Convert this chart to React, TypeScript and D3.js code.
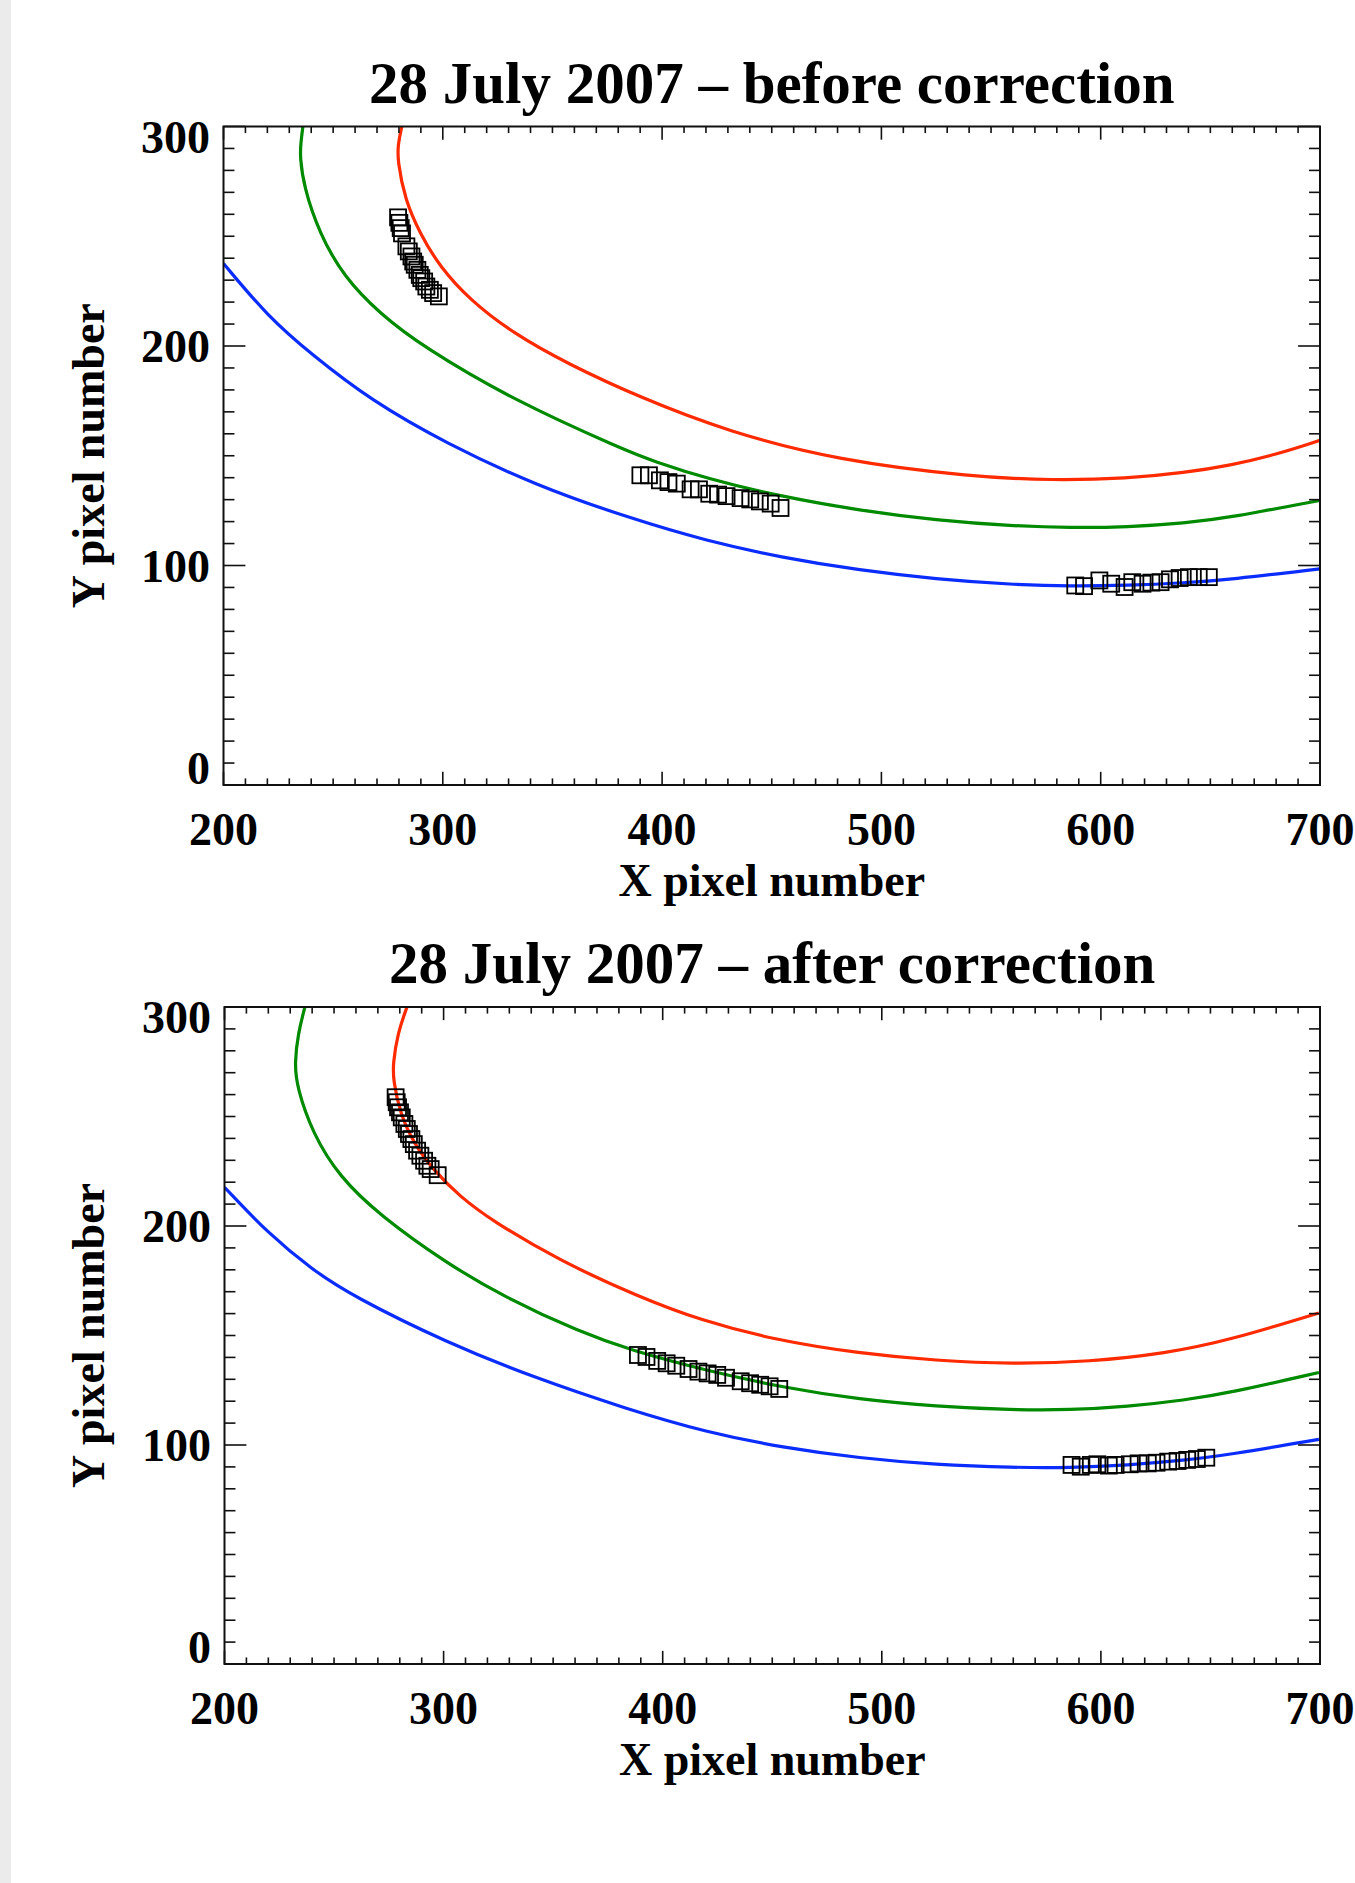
import * as d3 from 'd3';

type Pt = [number, number];

const xTicks = [200, 300, 400, 500, 600, 700];
const yTicks = [0, 100, 200, 300];
const xTitle = 'X pixel number';
const yTitle = 'Y pixel number';
const beforeTitle = '28 July 2007 – before correction';
const afterTitle = '28 July 2007 – after correction';

// fitted curves (x pixel, y pixel)
const beforeRed: Pt[] = [
  [281.3, 300], [279.6, 292], [279.3, 284.7], [282.8, 266.5], [289.6, 251.3], [298.6, 236.1],
  [312.4, 220.9], [332.2, 205.7], [356.7, 192], [390, 176.5], [430, 161], [479.7, 147.9],
  [542.5, 140.3], [577.4, 138.8], [612.3, 139.6], [638.4, 142.3], [659, 145.6], [680, 150.5],
  [700, 157],
];
const beforeGreen: Pt[] = [
  [236.2, 300], [235.2, 292], [234.9, 286.2], [236.6, 272.6], [243.7, 251.3], [254.9, 231.5],
  [271.2, 214.8], [291, 199.6], [332.2, 175.3], [383.1, 152.5], [395.9, 147.6], [420.3, 139.6],
  [455.2, 131.2], [490.1, 125.1], [525, 120.6], [559.9, 118], [586.1, 117.2], [612.3, 117.5],
  [638.4, 119.3], [659, 121.8], [700, 129.7],
];
const beforeBlue: Pt[] = [
  [200, 237.6], [220.3, 213.3], [240.6, 195.8], [267.1, 175.3], [301.7, 155.5], [342.4, 136.5],
  [385.4, 121.5], [420.3, 111.2], [455.2, 103.5], [490.1, 97.8], [525, 93.8], [559.9, 91.3],
  [586.1, 90.5], [612.3, 90.9], [638.4, 92.1], [659, 93.6], [700, 98.5],
];
const beforeMarks: Pt[] = [
  [279.6, 258.6], [280.2, 256.1], [280.8, 253.7], [281.4, 251.3], [283.4, 245.4], [284.5, 243.1],
  [285.7, 240.8], [286.5, 238.5], [287.2, 237.0], [288.4, 234.7], [289.5, 232.4], [290.2, 230.9],
  [291.5, 229.4], [292.5, 227.1], [294.1, 225.6], [295.6, 224.1], [298.2, 222.6],
  [390.1, 141.1], [394.0, 141.1], [399.0, 138.8], [402.9, 138.0], [406.7, 137.3], [413.0, 134.7],
  [416.8, 134.7], [421.5, 132.7], [425.5, 132.3], [429.4, 131.6], [435.8, 130.7], [440.2, 130.1],
  [444.6, 129.2], [449.5, 128.2], [454.0, 126.2],
  [588.4, 90.9], [592.4, 90.6], [599.4, 93.2], [604.8, 91.7], [610.9, 90.2], [614.4, 92.4],
  [619.1, 91.7], [623.1, 92.2], [627.3, 92.4], [631.6, 93.7], [636.0, 94.3], [640.2, 94.7],
  [644.7, 94.7], [649.3, 94.7],
];

const afterRed: Pt[] = [
  [283.3, 300], [279, 288], [276.9, 274], [277.0, 266.7], [280.1, 251.5], [286.2, 238],
  [295.3, 225.6], [307.5, 213.4], [321.7, 202.7], [352.2, 184.5], [388.9, 167.7], [417, 157],
  [451.4, 147.9], [489.9, 141.8], [524.8, 138.5], [559.7, 137.0], [594.7, 138.0], [629.6, 141.8],
  [658.9, 147.9], [699.5, 160.3],
];
const afterGreen: Pt[] = [
  [236.7, 300], [233.6, 288], [232, 274.3], [233, 263.6], [240.2, 242.3], [252.4, 222.5],
  [270.7, 205], [301.3, 183], [327.8, 167.5], [362.4, 151.5], [385.1, 143.4], [420, 134],
  [455, 126.2], [489.9, 120.8], [524.8, 117.6], [559.7, 116], [585.9, 116], [612.1, 117.5],
  [638.3, 120.5], [658.9, 123.8], [699.5, 133.1],
];
const afterBlue: Pt[] = [
  [200, 217.7], [219.8, 196.7], [240.2, 179.9], [258.5, 168], [301.3, 146.8], [342, 130.5],
  [383.5, 116.5], [420, 105.8], [455, 98.8], [489.9, 94], [524.8, 91], [559.7, 89.7],
  [585.9, 89.6], [612.1, 90.8], [638.3, 93.0], [658.9, 95.6], [699.5, 102.6],
];
const afterMarks: Pt[] = [
  [278.1, 258.8], [278.6, 256.5], [279.2, 254.2], [280.1, 251.9], [280.9, 249.6], [282.1, 246.6],
  [283.2, 244.3], [284.2, 242.0], [285.3, 239.7], [286.4, 237.4], [287.9, 234.4], [289.4, 232.1],
  [291.1, 229.8], [292.6, 227.5], [294.1, 226.0], [297.3, 223.2],
  [388.7, 141.1], [392.6, 140.2], [397.5, 138.4], [401.8, 137.3], [406.2, 136.2], [411.8, 134.7],
  [416.3, 133.5], [420.5, 132.7], [424.9, 132.0], [428.9, 130.7], [435.6, 129.1], [439.9, 128.2],
  [444.5, 127.5], [448.8, 126.8], [453.2, 125.6],
  [586.6, 90.9], [590.8, 90.1], [595.4, 90.9], [598.4, 91.2], [603.6, 90.6], [606.7, 90.9],
  [613.2, 91.2], [617.2, 91.6], [621.4, 91.6], [625.4, 91.9], [630.7, 92.4], [635.0, 92.7],
  [639.4, 93.2], [643.8, 93.6], [648.1, 94.2],
];

const FONT = "'Liberation Serif', 'Times New Roman', serif";

type PanelProps = {
  id: string;
  left: number;
  top: number;
  width: number;
  height: number;
  title: string;
  red: Pt[];
  green: Pt[];
  blue: Pt[];
  marks: Pt[];
};

function Panel({ id, left, top, width, height, title, red, green, blue, marks }: PanelProps) {
  const x = d3.scaleLinear().domain([200, 700]).range([left, left + width]);
  const y = d3.scaleLinear().domain([0, 300]).range([top + height, top]);
  // b-spline evens out the small wobble of hand-read points
  const line = d3.line<Pt>()
    .x(d => x(d[0]))
    .y(d => y(d[1]))
    .curve(d3.curveBasis);

  const xMinor = d3.range(200, 701, 10);
  const yMinor = d3.range(0, 301, 10);
  // IDL style: tick length is 2% of the plot size
  const xLen = height * 0.02;
  const yLen = width * 0.02;
  const bottom = top + height;
  const right = left + width;
  const sq = 16;

  const yLabelDy = (v: number) => (v === 300 ? 26 : v === 0 ? -1 : 16);

  return (
    <g>
      <defs>
        <clipPath id={id}>
          <rect x={left} y={top} width={width} height={height} />
        </clipPath>
      </defs>

      <text x={left + width / 2} y={top - 24} textAnchor="middle" fontFamily={FONT}
        fontWeight="bold" fontSize={59} fill="#000">{title}</text>

      <g clipPath={`url(#${id})`} fill="none" strokeWidth={3.2} strokeLinejoin="round">
        <path d={line(red) || ''} stroke="#ff2a00" />
        <path d={line(green) || ''} stroke="#008a00" />
        <path d={line(blue) || ''} stroke="#0a2cff" />
      </g>

      <g fill="none" stroke="#000" strokeWidth={1.8}>
        {marks.map((d, i) => (
          <rect key={i} x={x(d[0]) - sq / 2} y={y(d[1]) - sq / 2} width={sq} height={sq} />
        ))}
      </g>

      <g stroke="#111" strokeWidth={1.6}>
        {xMinor.map(v => {
          const len = v % 100 === 0 ? xLen : xLen / 2;
          return (
            <g key={`x${v}`}>
              <line x1={x(v)} x2={x(v)} y1={bottom} y2={bottom - len} />
              <line x1={x(v)} x2={x(v)} y1={top} y2={top + len} />
            </g>
          );
        })}
        {yMinor.map(v => {
          const len = v % 100 === 0 ? yLen : yLen / 2;
          return (
            <g key={`y${v}`}>
              <line x1={left} x2={left + len} y1={y(v)} y2={y(v)} />
              <line x1={right} x2={right - len} y1={y(v)} y2={y(v)} />
            </g>
          );
        })}
      </g>
      <rect x={left} y={top} width={width} height={height} fill="none" stroke="#111" strokeWidth={2} />

      <g fontFamily={FONT} fontWeight="bold" fontSize={46} fill="#000">
        {xTicks.map(v => (
          <text key={`xl${v}`} x={x(v)} y={bottom + 60} textAnchor="middle">{v}</text>
        ))}
        {yTicks.map(v => (
          <text key={`yl${v}`} x={left - 13.5} y={y(v) + yLabelDy(v)} textAnchor="end">{v}</text>
        ))}
        <text x={left + width / 2} y={bottom + 111} textAnchor="middle">{xTitle}</text>
        <text transform={`translate(104, ${top + height / 2}) rotate(-90)`} textAnchor="middle">{yTitle}</text>
      </g>
    </g>
  );
}

export default function App() {
  return (
    <svg width={1355} height={1883} style={{ position: 'absolute', left: 0, top: 0, background: '#fff' }}>
      <rect x={0} y={0} width={1355} height={1883} fill="#fff" />
      <rect x={0} y={0} width={11} height={1883} fill="#ebebeb" />
      <Panel id="clipBefore" left={223.5} top={126.5} width={1096.5} height={658.5}
        title={beforeTitle} red={beforeRed} green={beforeGreen} blue={beforeBlue} marks={beforeMarks} />
      <Panel id="clipAfter" left={224.5} top={1007} width={1095.5} height={657}
        title={afterTitle} red={afterRed} green={afterGreen} blue={afterBlue} marks={afterMarks} />
    </svg>
  );
}
